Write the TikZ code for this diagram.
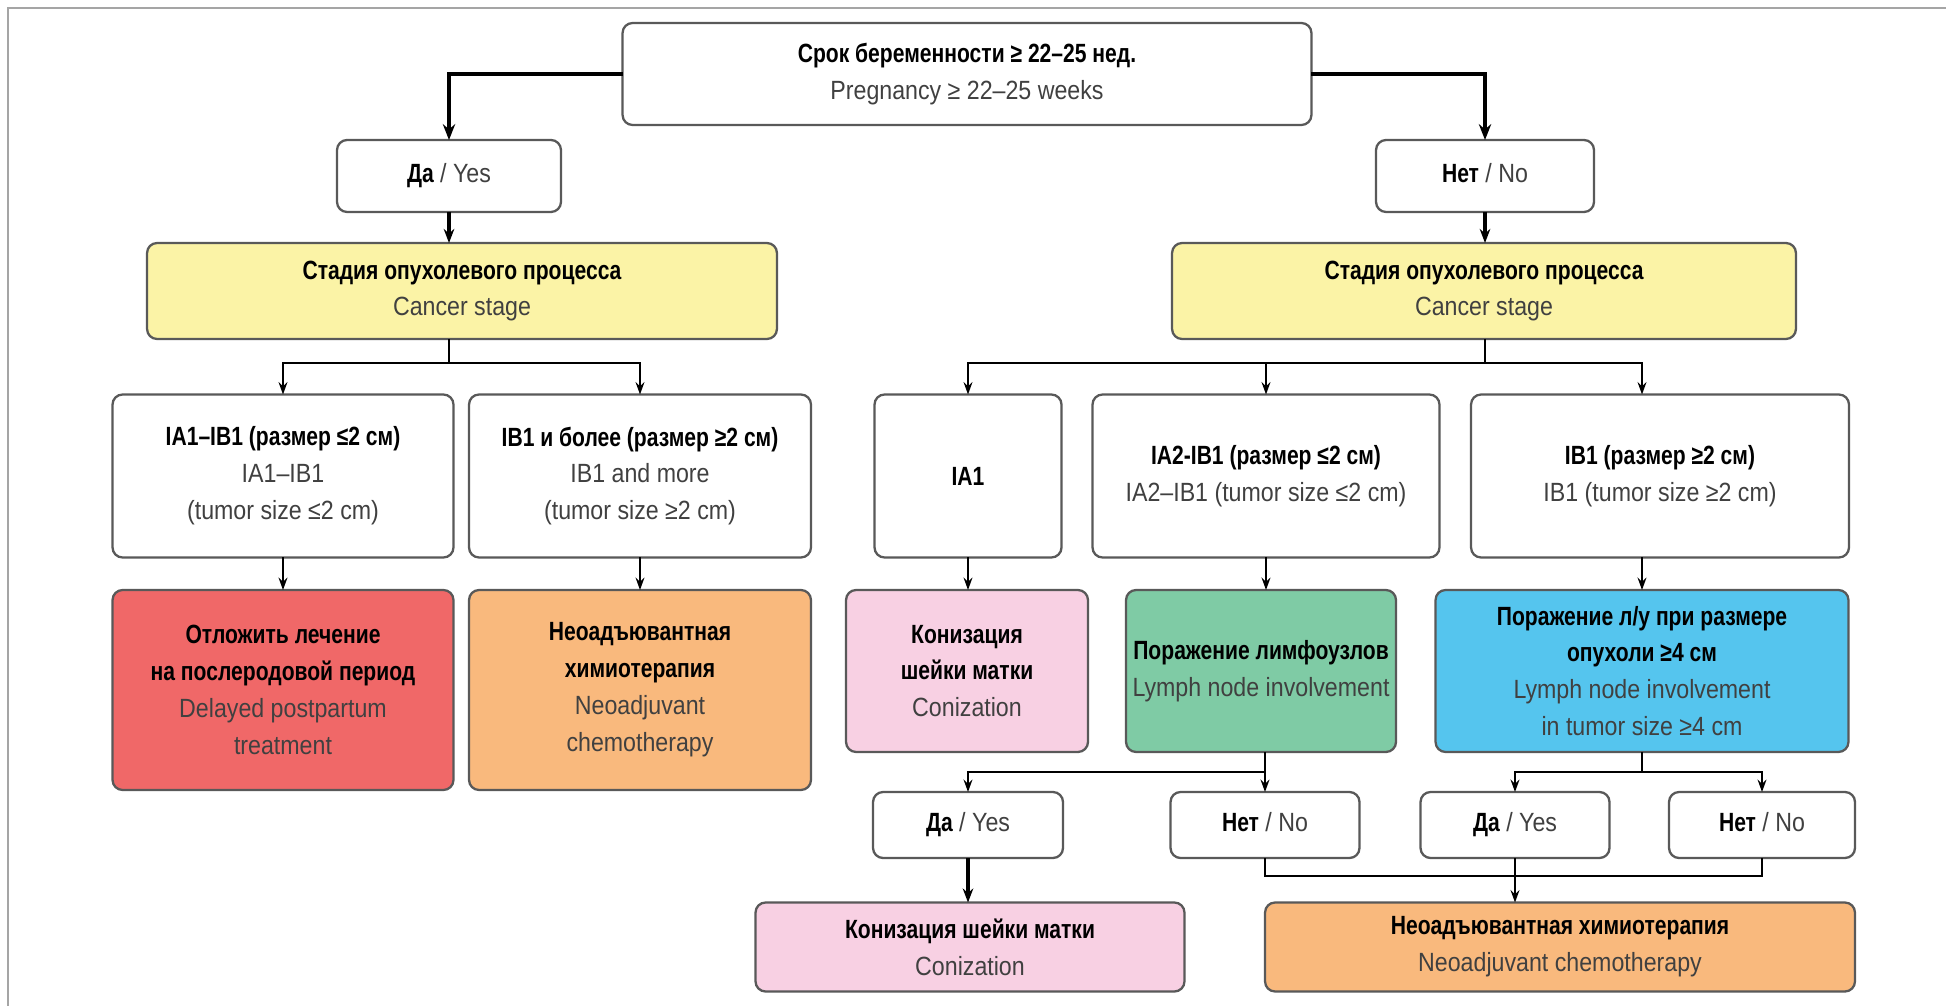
\documentclass[tikz,border=0pt]{standalone}
\usepackage{fontspec}
\setmainfont{Liberation Sans}[FakeStretch=0.88, BoldFeatures={FakeStretch=0.8}]
\usepackage{xcolor}
\usepackage{tikz}
\usetikzlibrary{arrows.meta,positioning,calc}

\definecolor{stageyellow}{RGB}{251,243,166}
\definecolor{delayred}{RGB}{240,104,104}
\definecolor{chemoorange}{RGB}{249,185,125}
\definecolor{conizpink}{RGB}{248,208,227}
\definecolor{lymphgreen}{RGB}{127,203,165}
\definecolor{lymphblue}{RGB}{85,197,238}
\definecolor{framegray}{RGB}{165,165,165}

\newcommand{\hd}[1]{\textbf{\color{black}#1}}

\begin{document}
\begin{tikzpicture}[
  x=0.02cm, y=-0.02cm,
  box/.style={rectangle, rounded corners=0.2cm, draw=black!65, line width=1.3pt, fill=white,
    align=center, inner sep=2pt, outer sep=0pt, text=black!75,
    font=\fontsize{15}{21}\selectfont},
  stage/.style={box, fill=stageyellow, minimum height=1.92cm},
  answer/.style={box, minimum height=1.44cm, text height=11pt, text depth=4pt},
  small/.style={box, minimum height=1.32cm, text height=11pt, text depth=4pt},
  arrow/.style={-{Stealth[length=7pt,width=5pt]}, line width=1.3pt},
  midarrow/.style={-{Stealth[length=8pt,width=6pt]}, line width=2pt},
  bigarrow/.style={-{Stealth[length=9pt,width=7pt]}, line width=2.8pt},
  line/.style={line width=1.3pt}
]
\useasboundingbox (0,0) rectangle (1946,1006);
\clip (0,0) rectangle (1946,1006);
\fill[white] (0,0) rectangle (1946,1006);
\draw[framegray, line width=1.5pt] (8,8) rectangle (2100,1100);

% top question
\node[box, minimum width=13.78cm, minimum height=2.04cm] (top) at (967,74)
  {\hd{Срок беременности ≥ 22–25 нед.}\\ Pregnancy ≥ 22–25 weeks};
\node[answer, minimum width=4.48cm] (yesA) at (449,176) {\hd{Да} / Yes};
\node[answer, minimum width=4.36cm] (noA) at (1485,176) {\hd{Нет} / No};

% cancer stage
\node[stage, minimum width=12.6cm] (stageL) at (462,291) {\hd{Стадия опухолевого процесса}\\ Cancer stage};
\node[stage, minimum width=12.48cm] (stageR) at (1484,291) {\hd{Стадия опухолевого процесса}\\ Cancer stage};

% stages
\node[box, minimum width=6.82cm, minimum height=3.26cm] (ia1ib1) at (283,476)
  {\hd{IA1–IB1 (размер ≤2 см)}\\ IA1–IB1\\ (tumor size ≤2 cm)};
\node[box, minimum width=6.84cm, minimum height=3.26cm] (ib1more) at (640,476)
  {\hd{IB1 и более (размер ≥2 см)}\\ IB1 and more\\ (tumor size ≥2 cm)};
\node[box, minimum width=3.74cm, minimum height=3.26cm] (ia1) at (968,476) {\hd{IA1}};
\node[box, minimum width=6.94cm, minimum height=3.26cm] (ia2ib1) at (1266,476)
  {\hd{IA2-IB1 (размер ≤2 см)}\\ IA2–IB1 (tumor size ≤2 cm)};
\node[box, minimum width=7.56cm, minimum height=3.26cm] (ib1) at (1660,476)
  {\hd{IB1 (размер ≥2 см)}\\ IB1 (tumor size ≥2 cm)};

% treatments
\node[box, fill=delayred, minimum width=6.82cm, minimum height=4cm] (delay) at (283,690)
  {\hd{Отложить лечение}\\ \hd{на послеродовой период}\\ Delayed postpartum\\ treatment};
\node[box, fill=chemoorange, minimum width=6.84cm, minimum height=4cm] (neoL) at (640,690)
  {\hd{Неоадъювантная}\\ \hd{химиотерапия}\\ Neoadjuvant\\ chemotherapy};
\node[box, fill=conizpink, minimum width=4.84cm, minimum height=3.24cm] (coniz) at (967,671)
  {\hd{Конизация}\\ \hd{шейки матки}\\ Conization};
\node[box, fill=lymphgreen, minimum width=5.4cm, minimum height=3.24cm] (lymph) at (1261,671)
  {\hd{Поражение лимфоузлов}\\ Lymph node involvement};
\node[box, fill=lymphblue, minimum width=8.26cm, minimum height=3.24cm] (lymph4) at (1642,671)
  {\hd{Поражение л/у при размере}\\ \hd{опухоли ≥4 см}\\ Lymph node involvement\\ in tumor size ≥4 cm};

% lymph node answers
\node[small, minimum width=3.8cm] (yesB) at (968,825) {\hd{Да} / Yes};
\node[small, minimum width=3.78cm] (noB) at (1265,825) {\hd{Нет} / No};
\node[small, minimum width=3.78cm] (yesC) at (1515,825) {\hd{Да} / Yes};
\node[small, minimum width=3.72cm] (noC) at (1762,825) {\hd{Нет} / No};

% final
\node[box, fill=conizpink, minimum width=8.58cm, minimum height=1.78cm] (conizB) at (970,947)
  {\hd{Конизация шейки матки}\\ Conization};
\node[box, fill=chemoorange, minimum width=11.8cm, minimum height=1.78cm] (neoB) at (1560,947)
  {\hd{Неоадъювантная химиотерапия}\\ Neoadjuvant chemotherapy};

\coordinate (splitL) at (449,363);
\coordinate (splitR) at (1485,363);
\coordinate (splitG) at (1265,772);
\coordinate (splitB) at (1642,772);
\coordinate (joinB) at (1515,876);

\draw[bigarrow] (top.west) -| (yesA.north);
\draw[bigarrow] (top.east) -| (noA.north);
\draw[midarrow] (yesA.south) -- (yesA.south |- stageL.north);
\draw[midarrow] (noA.south) -- (noA.south |- stageR.north);

\draw[line] (splitL |- stageL.south) -- (splitL);
\draw[arrow] (splitL) -| (ia1ib1.north);
\draw[arrow] (splitL) -| (ib1more.north);
\draw[line] (splitR |- stageR.south) -- (splitR);
\draw[arrow] (splitR) -| (ia1.north);
\draw[arrow] (splitR) -| (ia2ib1.north);
\draw[arrow] (splitR) -| (lymph4.north |- ib1.north);

\draw[arrow] (ia1ib1) -- (delay);
\draw[arrow] (ib1more) -- (neoL);
\draw[arrow] (ia1.south) -- (ia1.south |- coniz.north);
\draw[arrow] (ia2ib1.south) -- (ia2ib1.south |- lymph.north);
\draw[arrow] (lymph4.north |- ib1.south) -- (lymph4.north);

\draw[line] (splitG |- lymph.south) -- (splitG);
\draw[arrow] (splitG) -| (yesB.north);
\draw[arrow] (splitG) -- (noB.north);
\draw[line] (lymph4.south) -- (splitB);
\draw[arrow] (splitB) -| (yesC.north);
\draw[arrow] (splitB) -| (noC.north);

\draw[midarrow] (yesB.south) -- (yesB.south |- conizB.north);
\draw[line] (noB.south) |- (joinB) -| (noC.south);
\draw[arrow] (yesC.south) -- (yesC.south |- neoB.north);
\end{tikzpicture}
\end{document}
